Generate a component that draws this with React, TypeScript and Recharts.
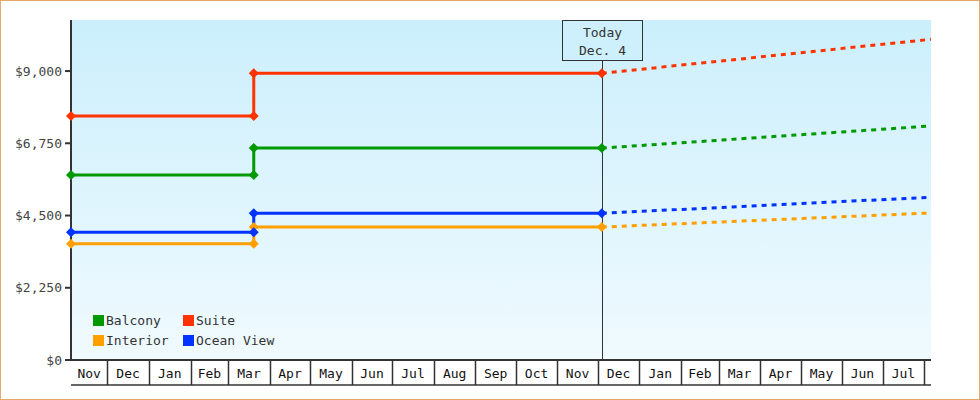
import {
  CartesianGrid,
  Legend,
  Line,
  LineChart,
  ReferenceLine,
  XAxis,
  YAxis,
} from "recharts";

const MONO = "'DejaVu Sans Mono', monospace";
const INK = "#333";

// day 0 = Nov 4, 2024 ; today = Dec 4, 2025 ; chart ends early Aug 2026
const START = Date.UTC(2024, 10, 4);
const dayOf = (y: number, m: number, d: number) =>
  Math.round((Date.UTC(y, m, d) - START) / 86400000);

const TODAY = dayOf(2025, 11, 4);
const END = 640;
const STEP_DAY = dayOf(2025, 2, 20);

const MONTH_LABELS = [
  "Nov", "Dec", "Jan", "Feb", "Mar", "Apr", "May", "Jun", "Jul", "Aug", "Sep",
  "Oct", "Nov", "Dec", "Jan", "Feb", "Mar", "Apr", "May", "Jun", "Jul",
];
// first day of each month after the start, Dec 2024 .. Aug 2026
const MONTH_STARTS = Array.from({ length: 21 }, (_, i) =>
  dayOf(2024, 11 + i, 1)
);
const MONTH_MIDS = MONTH_LABELS.map((_, i) => {
  const a = i === 0 ? 0 : MONTH_STARTS[i - 1];
  return (a + MONTH_STARTS[i]) / 2;
});

const Y_TICKS = [0, 2250, 4500, 6750, 9000];

const SERIES = ["Balcony", "Suite", "Interior", "Ocean View"];
const COLORS = ["#009900", "#ff3300", "#ffa000", "#0033ff"];
const PRICE_BEFORE = [5760, 7600, 3620, 3980];
const PRICE_AFTER = [6600, 8930, 4140, 4570];
const PRICE_FORECAST = [7290, 9990, 4580, 5070];

const history = (i: number) => [
  { d: 0, v: PRICE_BEFORE[i] },
  { d: STEP_DAY, v: PRICE_BEFORE[i] },
  { d: STEP_DAY, v: PRICE_AFTER[i] },
  { d: TODAY, v: PRICE_AFTER[i] },
];
const forecast = (i: number) => [
  { d: TODAY, v: PRICE_AFTER[i] },
  { d: END, v: PRICE_FORECAST[i] },
];

const diamond = (color: string) => (p: any) => {
  const { cx, cy, index } = p;
  const r = 5;
  return (
    <polygon
      key={index}
      points={`${cx},${cy - r} ${cx + r},${cy} ${cx},${cy + r} ${cx - r},${cy}`}
      fill={color}
    />
  );
};

// month box separators
function SepTick({ x, y }: any) {
  const xx = Math.round(x) + 0.5;
  return <line x1={xx} x2={xx} y1={y} y2={y + 25} stroke={INK} strokeWidth={1.5} />;
}

function MonthTick({ x, y, payload }: any) {
  const i = MONTH_MIDS.indexOf(payload.value);
  return (
    <text
      x={x}
      y={y - 12}
      textAnchor="middle"
      dominantBaseline="central"
      fontFamily={MONO}
      fontSize={13}
      fill="#111"
    >
      {MONTH_LABELS[i]}
    </text>
  );
}

function TodayLabel({ viewBox }: any) {
  const x = Math.round(viewBox.x) + 0.5;
  return (
    <g>
      <line x1={x} x2={x} y1={60} y2={360} stroke={INK} strokeWidth={1} />
      <rect x={x - 40} y={20.5} width={80} height={40} fill="#cdf0fc" stroke={INK} strokeWidth={1} />
      <text x={x} y={32} textAnchor="middle" dominantBaseline="central" fontFamily={MONO} fontSize={13} fill={INK}>
        Today
      </text>
      <text x={x} y={50} textAnchor="middle" dominantBaseline="central" fontFamily={MONO} fontSize={13} fill={INK}>
        Dec. 4
      </text>
    </g>
  );
}

function PriceLegend() {
  return (
    <div
      style={{
        display: "grid",
        gridTemplateColumns: "90px 110px",
        rowGap: 5,
        fontFamily: MONO,
        fontSize: 13,
        color: INK,
      }}
    >
      {SERIES.map((name, i) => (
        <div key={name} style={{ display: "flex", alignItems: "center", height: 15 }}>
          <span style={{ width: 11, height: 11, background: COLORS[i], marginRight: 2 }} />
          {name}
        </div>
      ))}
    </div>
  );
}

export default function App() {
  return (
    <div style={{ position: "absolute", left: 0, top: 0, width: 980, height: 400 }}>
      <div
        style={{
          position: "absolute",
          inset: 0,
          border: "1px solid #e8a868",
          boxSizing: "border-box",
          pointerEvents: "none",
        }}
      />
      <LineChart width={980} height={400} margin={{ top: 20, right: 49, left: 0, bottom: 14 }}>
        <defs>
          <linearGradient id="bg" x1="0" y1="0" x2="0" y2="1">
            <stop offset="0%" stopColor="#cbeffc" />
            <stop offset="100%" stopColor="#f0faff" />
          </linearGradient>
        </defs>
        <CartesianGrid fill="url(#bg)" horizontal={false} vertical={false} />
        <XAxis
          xAxisId="b"
          type="number"
          dataKey="d"
          domain={[0, END]}
          ticks={MONTH_STARTS}
          tick={<SepTick />}
          tickLine={false}
          tickSize={0}
          tickMargin={0}
          interval={0}
          axisLine={{ stroke: INK, strokeWidth: 2 }}
          height={25}
        />
        <XAxis
          xAxisId="l"
          type="number"
          dataKey="d"
          domain={[0, END]}
          ticks={MONTH_MIDS}
          tick={<MonthTick />}
          tickLine={false}
          tickSize={0}
          tickMargin={0}
          interval={0}
          axisLine={{ stroke: INK, strokeWidth: 1.5 }}
          height={1}
          allowDataOverflow
        />
        <YAxis
          type="number"
          domain={[0, 10590]}
          ticks={Y_TICKS}
          width={71}
          tickSize={6}
          tickMargin={3}
          tickLine={{ stroke: INK, strokeWidth: 2 }}
          axisLine={{ stroke: INK, strokeWidth: 2 }}
          tick={{ fontFamily: MONO, fontSize: 13, fill: "#444" }}
          tickFormatter={(v: number) => "$" + v.toLocaleString("en-US")}
        />
        <ReferenceLine xAxisId="b" x={TODAY} stroke="none" label={<TodayLabel />} />
        <Legend
          layout="horizontal"
          verticalAlign="middle"
          align="center"
          content={<PriceLegend />}
          wrapperStyle={{ position: "absolute", left: 93, top: 313, width: 220 }}
        />
        {SERIES.map((name, i) => (
          <Line
            key={"f" + name}
            xAxisId="b"
            data={forecast(i)}
            dataKey="v"
            stroke={COLORS[i]}
            strokeWidth={3}
            strokeDasharray="5 5"
            dot={false}
            legendType="none"
            isAnimationActive={false}
          />
        ))}
        {SERIES.map((name, i) => (
          <Line
            key={name}
            xAxisId="b"
            name={name}
            data={history(i)}
            dataKey="v"
            stroke={COLORS[i]}
            strokeWidth={3}
            dot={diamond(COLORS[i])}
            activeDot={false}
            isAnimationActive={false}
          />
        ))}
      </LineChart>
    </div>
  );
}
